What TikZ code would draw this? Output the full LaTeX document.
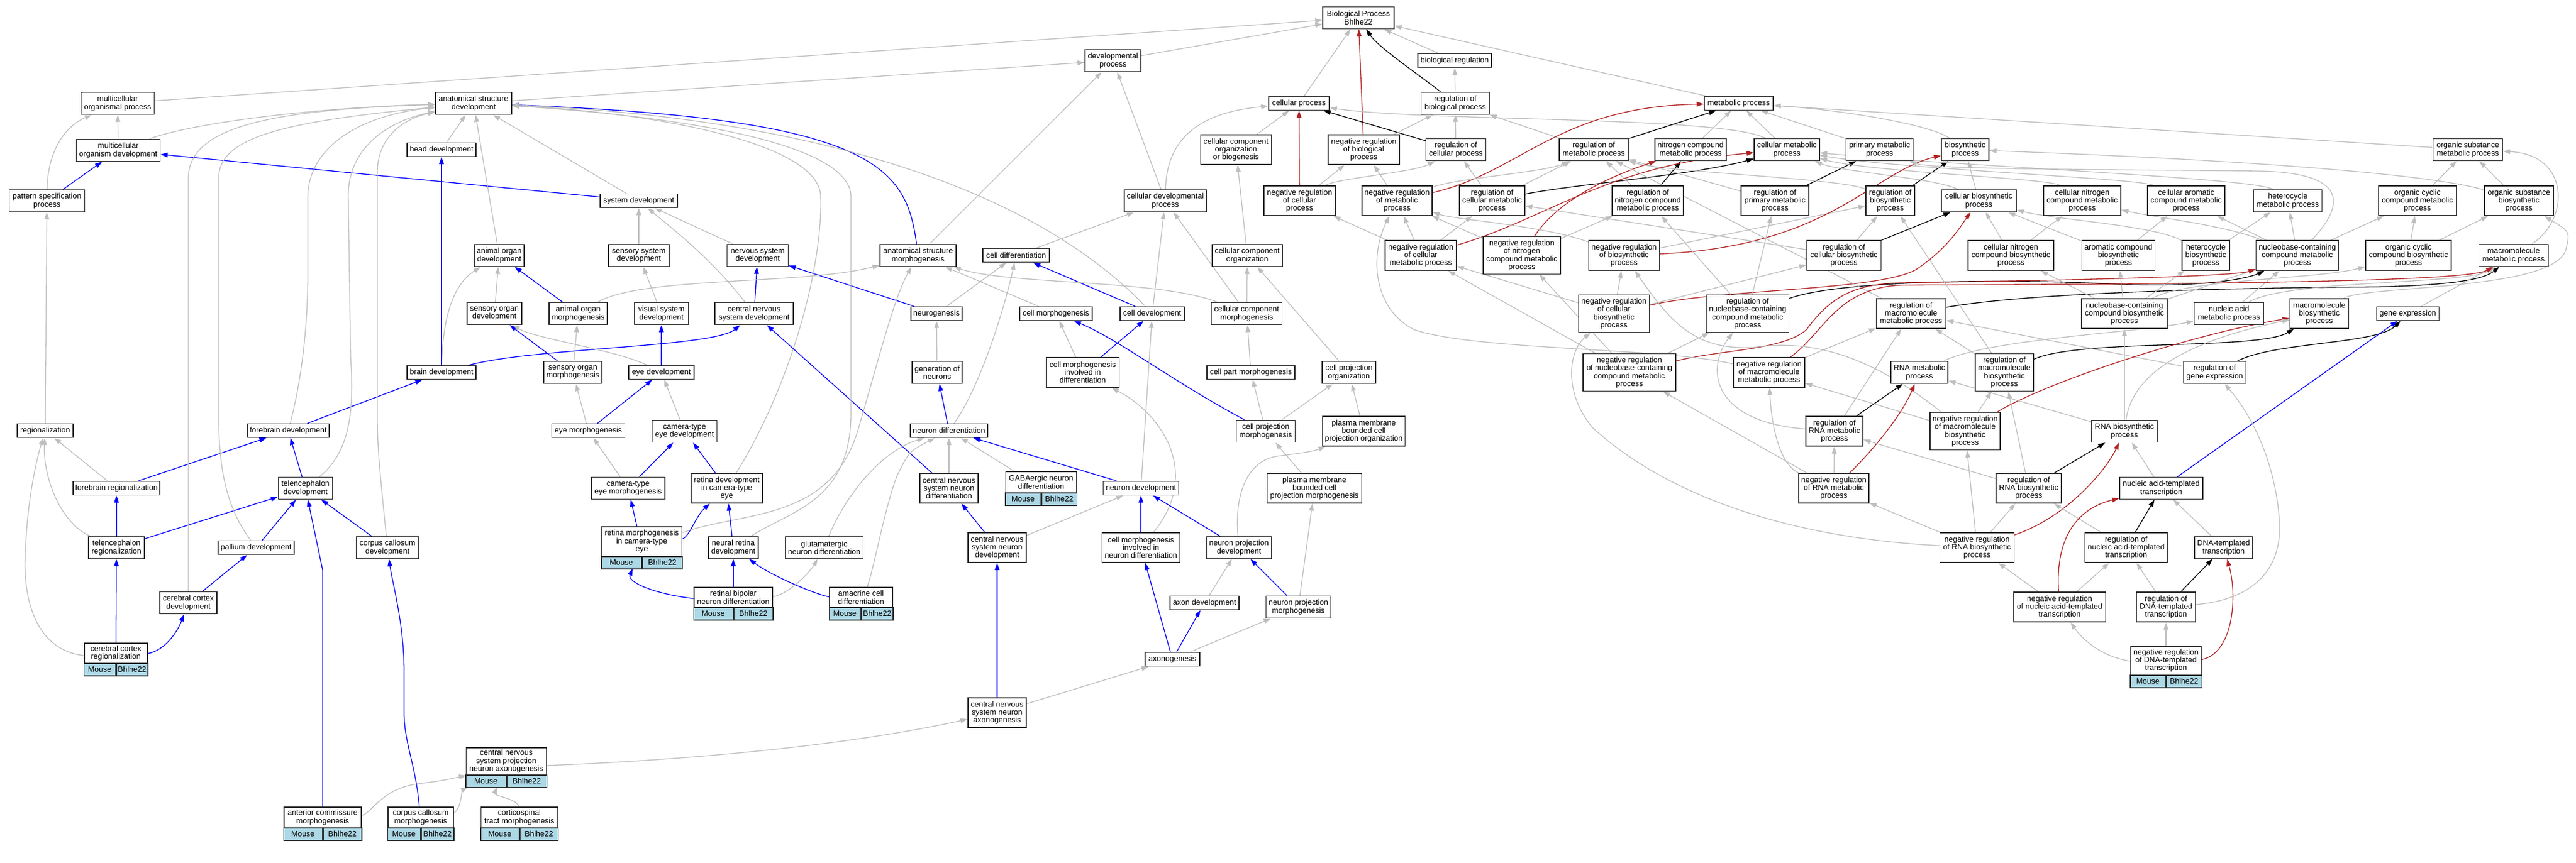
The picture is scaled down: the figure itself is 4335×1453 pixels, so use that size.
\documentclass[tikz,border=0pt]{standalone}
\usepackage{fontspec}
\setmainfont{Liberation Sans}
\usetikzlibrary{arrows.meta}
\definecolor{egray}{HTML}{BEBEBE}
\definecolor{eblue}{HTML}{0000FF}
\definecolor{ered}{HTML}{B22222}
\definecolor{lblue}{HTML}{ADD8E6}
\newcommand\gfont{\fontsize{13pt}{13.3pt}\selectfont}
\pgfdeclarelayer{bgl}
\pgfdeclarelayer{edges}
\pgfsetlayers{bgl,edges,main}
\tikzset{
 gbox/.style={draw=black!85, line width=1.5pt, fill=white, inner xsep=3pt, inner ysep=0pt, align=center, font=\gfont},
 gcell/.style={draw=black!85, line width=1.5pt, fill=lblue, minimum height=21pt, inner sep=0pt, font=\gfont},
 l1/.style={minimum height=23pt}, l2/.style={minimum height=37pt},
 l3/.style={minimum height=50pt}, l4/.style={minimum height=63pt},
 ga/.style={draw=egray, line width=1.3pt, -{Triangle[length=12pt,width=8pt]}},
 ba/.style={ga, draw=eblue},
 ka/.style={ga, draw=black},
 ra/.style={ga, draw=ered},
}
\newcommand\gnode[6]{\node[gbox,l#5,minimum width=#4pt] (#1) at (#2,#3) {#6};}
\newcommand\mnode[6]{%
 \node[inner sep=0pt, outer sep=0pt, minimum width=#4pt, minimum height={#5pt+21pt}] (#1) at (#2,{#3+#5/2+10.5}) {};
 \node[gbox, minimum width=#4pt, minimum height=#5pt, anchor=north] at (#2,#3) {#6};
 \node[gcell, minimum width=#4pt/2, anchor=north east] at (#2,{#3+#5}) {Mouse};
 \node[gcell, minimum width=#4pt/2, anchor=north west] at (#2,{#3+#5}) {Bhlhe22};
}
\begin{document}
\begin{tikzpicture}[x=1pt,y=-1pt]
\begin{pgfonlayer}{bgl}
\fill[white] (0,0) rectangle (4335,1453);
\end{pgfonlayer}
\path[use as bounding box] (0,0) rectangle (4335,1453);
% ---- nodes
\gnode{BP}{2286}{30}{120}{2}{Biological Process\\Bhlhe22}
\gnode{DP}{1873}{102}{94}{2}{developmental\\process}
\gnode{BR}{2448}{102}{124}{1}{biological regulation}
\gnode{MOP}{198}{174}{123}{2}{multicellular\\organismal process}
\gnode{ASD}{797}{174}{128}{2}{anatomical structure\\development}
\gnode{CP}{2186}{174}{102}{1}{cellular process}
\gnode{RBP}{2449}{174}{115}{2}{regulation of\\biological process}
\gnode{MP}{2926}{174}{116}{1}{metabolic process}
\gnode{MOD}{199}{253}{141}{2}{multicellular\\organism development}
\gnode{HD}{743}{252}{116}{1}{head development}
\gnode{CCOB}{2080}{252}{119}{3}{cellular component\\organization\\or biogenesis}
\gnode{NRBP}{2295}{252}{120}{3}{negative regulation\\of biological\\process}
\gnode{RCP}{2450}{252}{101}{2}{regulation of\\cellular process}
\gnode{RMP}{2682}{252}{116}{2}{regulation of\\metabolic process}
\gnode{NCMP}{2845}{252}{120}{2}{nitrogen compound\\metabolic process}
\gnode{CMP}{3007}{252}{110}{2}{cellular metabolic\\process}
\gnode{PMP}{3163}{252}{113}{2}{primary metabolic\\process}
\gnode{BSP}{3307}{252}{80}{2}{biosynthetic\\process}
\gnode{OSMP}{4153}{252}{117}{2}{organic substance\\metabolic process}
\gnode{PSP}{79}{338}{127}{2}{pattern specification\\process}
\gnode{SD}{1075}{338}{130}{1}{system development}
\gnode{CDP}{1961}{338}{138}{2}{cellular developmental\\process}
\gnode{NRCP}{2187}{338}{120}{3}{negative regulation\\of cellular\\process}
\gnode{NRMP}{2351}{338}{118}{3}{negative regulation\\of metabolic\\process}
\gnode{RCMP}{2511}{338}{110}{3}{regulation of\\cellular metabolic\\process}
\gnode{RNCMP}{2773}{338}{120}{3}{regulation of\\nitrogen compound\\metabolic process}
\gnode{RPMP}{2987}{338}{114}{3}{regulation of\\primary metabolic\\process}
\gnode{RBSP}{3181}{338}{82}{3}{regulation of\\biosynthetic\\process}
\gnode{CBP}{3330}{338}{126}{2}{cellular biosynthetic\\process}
\gnode{CNCMP}{3504}{338}{130}{3}{cellular nitrogen\\compound metabolic\\process}
\gnode{CACMP}{3679}{338}{130}{3}{cellular aromatic\\compound metabolic\\process}
\gnode{HMP}{3850}{338}{115}{2}{heterocycle\\metabolic process}
\gnode{OCCMP}{4068}{338}{131}{3}{organic cyclic\\compound metabolic\\process}
\gnode{OSBP}{4239}{338}{116}{3}{organic substance\\biosynthetic\\process}
\gnode{AOD}{840}{430}{84}{2}{animal organ\\development}
\gnode{SSD}{1075}{430}{102}{2}{sensory system\\development}
\gnode{NSD}{1275}{430}{103}{2}{nervous system\\development}
\gnode{ASM}{1545}{430}{128}{2}{anatomical structure\\morphogenesis}
\gnode{CDIF}{1710}{430}{112}{1}{cell differentiation}
\gnode{CCO}{2099}{430}{118}{2}{cellular component\\organization}
\gnode{NRCMP}{2391}{430}{120}{3}{negative regulation\\of cellular\\metabolic process}
\gnode{NRNCMP}{2561}{430}{130}{4}{negative regulation\\of nitrogen\\compound metabolic\\process}
\gnode{NRBSP}{2733}{430}{119}{3}{negative regulation\\of biosynthetic\\process}
\gnode{RCBP}{3103}{430}{125}{3}{regulation of\\cellular biosynthetic\\process}
\gnode{CNCBP}{3384}{430}{144}{3}{cellular nitrogen\\compound biosynthetic\\process}
\gnode{ACBP}{3565}{430}{123}{3}{aromatic compound\\biosynthetic\\process}
\gnode{HBP}{3712}{430}{80}{3}{heterocycle\\biosynthetic\\process}
\gnode{NBCMP}{3866}{430}{139}{3}{nucleobase-containing\\compound metabolic\\process}
\gnode{OCCBP}{4053}{430}{144}{3}{organic cyclic\\compound biosynthetic\\process}
\gnode{MMP}{4230}{430}{117}{2}{macromolecule\\metabolic process}
\gnode{SOD}{832}{528}{92}{2}{sensory organ\\development}
\gnode{AOM}{973}{528}{98}{2}{animal organ\\morphogenesis}
\gnode{VSD}{1113}{528}{91}{2}{visual system\\development}
\gnode{CNSD}{1269}{528}{132}{2}{central nervous\\system development}
\gnode{NG}{1576}{528}{86}{1}{neurogenesis}
\gnode{CM}{1777}{528}{122}{1}{cell morphogenesis}
\gnode{CD}{1939}{528}{108}{1}{cell development}
\gnode{CCM}{2098}{528}{119}{2}{cellular component\\morphogenesis}
\gnode{NRCBP}{2716}{528}{119}{4}{negative regulation\\of cellular\\biosynthetic\\process}
\gnode{RNBCMP}{2941}{528}{139}{4}{regulation of\\nucleobase-containing\\compound metabolic\\process}
\gnode{RMMP}{3216}{528}{117}{3}{regulation of\\macromolecule\\metabolic process}
\gnode{NBCBP}{3575}{528}{144}{3}{nucleobase-containing\\compound biosynthetic\\process}
\gnode{NAMP}{3751}{528}{117}{2}{nucleic acid\\metabolic process}
\gnode{MBP}{3903}{528}{99}{3}{macromolecule\\biosynthetic\\process}
\gnode{GE}{4052}{528}{105}{1}{gene expression}
\gnode{BD}{743}{627}{116}{1}{brain development}
\gnode{SOM}{964}{627}{98}{2}{sensory organ\\morphogenesis}
\gnode{ED}{1113}{627}{110}{1}{eye development}
\gnode{GON}{1577}{627}{84}{2}{generation of\\neurons}
\gnode{CMID}{1822}{627}{123}{3}{cell morphogenesis\\involved in\\differentiation}
\gnode{CPM}{2105}{627}{148}{1}{cell part morphogenesis}
\gnode{CPO}{2270}{627}{90}{2}{cell projection\\organization}
\gnode{NRNBCMP}{2742}{627}{156}{4}{negative regulation\\of nucleobase-containing\\compound metabolic\\process}
\gnode{NRMMP}{2977}{627}{120}{3}{negative regulation\\of macromolecule\\metabolic process}
\gnode{RNAMP}{3230}{627}{96}{2}{RNA metabolic\\process}
\gnode{RMBP}{3373}{627}{98}{4}{regulation of\\macromolecule\\biosynthetic\\process}
\gnode{RGE}{3727}{627}{105}{2}{regulation of\\gene expression}
\gnode{REG}{76}{725}{94}{1}{regionalization}
\gnode{FD}{485}{725}{138}{1}{forebrain development}
\gnode{EM}{990}{725}{123}{1}{eye morphogenesis}
\gnode{CTED}{1152}{726}{109}{2}{camera-type\\eye development}
\gnode{ND}{1597}{725}{130}{1}{neuron differentiation}
\gnode{CPMO}{2130}{726}{99}{2}{cell projection\\morphogenesis}
\gnode{PMBCPO}{2295}{726}{139}{3}{plasma membrane\\bounded cell\\projection organization}
\gnode{RRNAMP}{3087}{726}{96}{3}{regulation of\\RNA metabolic\\process}
\gnode{NRMBP}{3307}{726}{118}{4}{negative regulation\\of macromolecule\\biosynthetic\\process}
\gnode{RNABP}{3575}{726}{111}{2}{RNA biosynthetic\\process}
\gnode{FR}{196}{822}{146}{1}{forebrain regionalization}
\gnode{TD}{514}{822}{91}{2}{telencephalon\\development}
\gnode{CTEM}{1057}{822}{124}{2}{camera-type\\eye morphogenesis}
\gnode{RDCTE}{1223}{822}{120}{3}{retina development\\in camera-type\\eye}
\gnode{CNSND}{1597}{822}{98}{3}{central nervous\\system neuron\\differentiation}
\mnode{GABA}{1752}{793}{119}{36}{GABAergic neuron\\differentiation}
\gnode{NDEV}{1920}{822}{127}{1}{neuron development}
\gnode{PMBCPM}{2212}{822}{159}{3}{plasma membrane\\bounded cell\\projection morphogenesis}
\gnode{NRRNAMP}{3086}{822}{118}{3}{negative regulation\\of RNA metabolic\\process}
\gnode{RRNABP}{3414}{822}{110}{3}{regulation of\\RNA biosynthetic\\process}
\gnode{NATT}{3637}{822}{140}{2}{nucleic acid-templated\\transcription}
\gnode{TR}{196}{922}{94}{2}{telencephalon\\regionalization}
\gnode{PD}{431}{922}{128}{1}{pallium development}
\gnode{CCD}{652}{922}{105}{2}{corpus callosum\\development}
\mnode{RMCTE}{1080}{886}{135}{50}{retina morphogenesis\\in camera-type\\eye}
\gnode{NRD}{1234}{922}{84}{2}{neural retina\\development}
\gnode{GND}{1387}{922}{131}{2}{glutamatergic\\neuron differentiation}
\gnode{CNSNDEV}{1678}{922}{98}{3}{central nervous\\system neuron\\development}
\gnode{CMIND}{1920}{922}{131}{3}{cell morphogenesis\\involved in\\neuron differentiation}
\gnode{NPD}{2085}{922}{109}{2}{neuron projection\\development}
\gnode{NRRNABP}{3327}{922}{125}{3}{negative regulation\\of RNA biosynthetic\\process}
\gnode{RNATT}{3578}{922}{139}{3}{regulation of\\nucleic acid-templated\\transcription}
\gnode{DTT}{3742}{922}{98}{2}{DNA-templated\\transcription}
\gnode{CCD2}{317}{1015}{96}{2}{cerebral cortex\\development}
\mnode{RBND}{1234}{988}{132}{34}{retinal bipolar\\neuron differentiation}
\mnode{ACD}{1449}{988}{106}{34}{amacrine cell\\differentiation}
\gnode{AXD}{2027}{1015}{116}{1}{axon development}
\gnode{NPM}{2185}{1022}{109}{2}{neuron projection\\morphogenesis}
\gnode{NRNATT}{3466}{1022}{155}{3}{negative regulation\\of nucleic acid-templated\\transcription}
\gnode{RDTT}{3645}{1022}{99}{3}{regulation of\\DNA-templated\\transcription}
\mnode{CCR}{195}{1082}{106}{34}{cerebral cortex\\regionalization}
\gnode{AXG}{1973}{1110}{92}{1}{axonogenesis}
\mnode{NRDTT}{3645}{1087}{119}{49}{negative regulation\\of DNA-templated\\transcription}
\gnode{CNSNAX}{1678}{1200}{98}{3}{central nervous\\system neuron\\axonogenesis}
\mnode{CNSPNA}{852}{1258}{135}{46}{central nervous\\system projection\\neuron axonogenesis}
\mnode{ACM}{543}{1358}{130}{35}{anterior commissure\\morphogenesis}
\mnode{CCMM}{708}{1358}{110}{35}{corpus callosum\\morphogenesis}
\mnode{CSTM}{874}{1358}{129}{35}{corticospinal\\tract morphogenesis}
% ---- edges
\begin{pgfonlayer}{edges}
\draw[ga] (MOP) -- (BP);
\draw[ga] (DP) -- (BP);
\draw[ga] (ASD) -- (DP);
\draw[ga] (CP) -- (BP);
\draw[ra] (NRBP) -- (BP);
\draw[ka] (RBP) .. controls (2380,120) and (2320,80) .. (BP);
\draw[ga] (BR) -- (BP);
\draw[ga] (MP) -- (BP);
\draw[ga] (RBP) -- (BR);
\draw[ga] (CDP) .. controls (1963,240) and (2010,190) .. (CP);
\draw[ga] (CCOB) -- (CP);
\draw[ra] (NRCP) -- (CP);
\draw[ka] (RCP) -- (CP);
\draw[ga] (CMP) .. controls (2900,195) and (2400,205) .. (CP);
\draw[ga] (NRBP) -- (RBP);
\draw[ga] (RCP) -- (RBP);
\draw[ga] (RMP) -- (RBP);
\draw[ka] (RMP) -- (MP);
\draw[ga] (NCMP) -- (MP);
\draw[ga] (CMP) -- (MP);
\draw[ga] (PMP) -- (MP);
\draw[ra] (NRMP) .. controls (2560,290) and (2620,180) .. (MP);
\draw[ga] (OSMP) -- (MP);
\draw[ga] (BSP) .. controls (3250,210) and (3100,185) .. (MP);
\draw[ba] (PSP) -- (MOD);
\draw[ga] (PSP) .. controls (80,260) and (105,215) .. (MOP);
\draw[ga] (MOD) -- (MOP);
\draw[ga] (MOD) .. controls (330,205) and (550,180) .. (ASD);
\draw[ga] (HD) -- (ASD);
\draw[ba] (SD) -- (MOD);
\draw[ga] (SD) -- (ASD);
\draw[ga] (CDP) -- (DP);
\draw[ga] (CCO) -- (CCOB);
\draw[ga] (NRCP) -- (NRBP);
\draw[ga] (NRCP) .. controls (2250,300) and (2380,290) .. (RCP);
\draw[ga] (NRMP) -- (NRBP);
\draw[ga] (NRMP) .. controls (2450,300) and (2600,290) .. (RMP);
\draw[ga] (RCMP) -- (RCP);
\draw[ga] (RCMP) -- (RMP);
\draw[ka] (RCMP) .. controls (2650,310) and (2850,295) .. (CMP);
\draw[ga] (RNCMP) -- (RMP);
\draw[ka] (RNCMP) -- (NCMP);
\draw[ga] (RPMP) -- (RMP);
\draw[ka] (RPMP) -- (PMP);
\draw[ga] (RBSP) .. controls (3100,300) and (2800,290) .. (RMP);
\draw[ka] (RBSP) -- (BSP);
\draw[ga] (CBP) -- (BSP);
\draw[ga] (CBP) .. controls (3260,300) and (3100,290) .. (CMP);
\draw[ga] (CNCMP) .. controls (3450,300) and (3150,290) .. (CMP);
\draw[ga] (CACMP) .. controls (3600,300) and (3200,285) .. (CMP);
\draw[ga] (HMP) .. controls (3800,300) and (3300,280) .. (CMP);
\draw[ga] (OCCMP) -- (OSMP);
\draw[ga] (OSBP) -- (OSMP);
\draw[ga] (OSBP) .. controls (4100,295) and (3800,270) .. (BSP);
\draw[ga] (AOD) -- (ASD);
\draw[ga] (SSD) -- (SD);
\draw[ga] (NSD) -- (SD);
\draw[ba] (ASM) .. controls (1525,280) and (1470,200) .. (ASD);
\draw[ga] (ASM) -- (DP);
\draw[ga] (CDIF) -- (CDP);
\draw[ga] (NRCMP) -- (NRCP);
\draw[ga] (NRCMP) -- (NRMP);
\draw[ga] (NRCMP) -- (RCMP);
\draw[ra] (NRCMP) .. controls (2600,370) and (2700,280) .. (CMP);
\draw[ga] (NRNCMP) -- (NRMP);
\draw[ga] (NRNCMP) -- (RNCMP);
\draw[ra] (NRNCMP) .. controls (2620,340) and (2700,300) .. (NCMP);
\draw[ga] (NRBSP) .. controls (2600,380) and (2450,370) .. (NRMP);
\draw[ga] (NRBSP) -- (RBSP);
\draw[ra] (NRBSP) .. controls (3080,415) and (3150,290) .. (BSP);
\draw[ga] (RCBP) -- (RBSP);
\draw[ga] (RCBP) -- (RCMP);
\draw[ka] (RCBP) -- (CBP);
\draw[ga] (CNCBP) -- (CBP);
\draw[ga] (CNCBP) -- (CNCMP);
\draw[ga] (ACBP) -- (CBP);
\draw[ga] (ACBP) -- (CACMP);
\draw[ga] (HBP) .. controls (3630,380) and (3460,370) .. (CBP);
\draw[ga] (HBP) -- (HMP);
\draw[ga] (NBCMP) .. controls (3750,380) and (3620,365) .. (CNCMP);
\draw[ga] (NBCMP) -- (CACMP);
\draw[ga] (NBCMP) -- (HMP);
\draw[ga] (NBCMP) -- (OCCMP);
\draw[ga] (NBCMP) .. controls (3960,330) and (3930,290) .. (3800,288) .. controls (3500,285) and (3250,285) .. (PMP);
\draw[ga] (OCCBP) -- (OCCMP);
\draw[ga] (OCCBP) -- (OSBP);
\draw[ga] (MMP) .. controls (4325,370) and (4325,260) .. (OSMP);
\draw[ga] (SOD) -- (AOD);
\draw[ba] (AOM) -- (AOD);
\draw[ga] (VSD) -- (SSD);
\draw[ba] (CNSD) -- (NSD);
\draw[ga] (CNSD) .. controls (1200,440) and (1150,400) .. (SD);
\draw[ba] (NG) -- (NSD);
\draw[ga] (NG) -- (CDIF);
\draw[ga] (CM) -- (ASM);
\draw[ba] (CD) -- (CDIF);
\draw[ga] (CD) -- (CDP);
\draw[ga] (CD) .. controls (1750,330) and (1400,200) .. (ASD);
\draw[ga] (CCM) .. controls (1950,470) and (1700,480) .. (ASM);
\draw[ga] (CCM) -- (CDP);
\draw[ga] (CCM) -- (CCO);
\draw[ga] (AOM) .. controls (1080,465) and (1350,480) .. (ASM);
\draw[ga] (BD) .. controls (745,540) and (760,480) .. (AOD);
\draw[ga] (NRCBP) -- (NRBSP);
\draw[ga] (NRCBP) -- (RCBP);
\draw[ga] (NRCBP) -- (NRCMP);
\draw[ra] (NRCBP) .. controls (2900,485) and (3180,490) .. (3230,450) .. controls (3280,415) and (3300,380) .. (CBP);
\draw[ga] (RNBCMP) -- (RNCMP);
\draw[ga] (RNBCMP) -- (RPMP);
\draw[ka] (RNBCMP) .. controls (3100,470) and (3400,470) .. (3550,478) .. controls (3700,485) and (3780,470) .. (NBCMP);
\draw[ga] (RMMP) -- (RMP);
\draw[ka] (RMMP) .. controls (3400,495) and (3700,485) .. (4000,483) .. controls (4130,480) and (4180,470) .. (MMP);
\draw[ga] (NBCBP) -- (CNCBP);
\draw[ga] (NBCBP) -- (ACBP);
\draw[ga] (NBCBP) -- (HBP);
\draw[ga] (NBCBP) -- (NBCMP);
\draw[ga] (NBCBP) .. controls (3680,470) and (3900,470) .. (OCCBP);
\draw[ga] (NAMP) -- (NBCMP);
\draw[ga] (NAMP) .. controls (3850,470) and (4150,480) .. (MMP);
\draw[ga] (MBP) .. controls (3980,480) and (4300,490) .. (4318,420) .. controls (4325,390) .. (OSBP);
\draw[ga] (GE) -- (MMP);
\draw[ba] (BD) -- (HD);
\draw[ba] (BD) .. controls (900,585) and (1200,585) .. (CNSD);
\draw[ba] (SOM) -- (SOD);
\draw[ga] (SOM) -- (AOM);
\draw[ga] (ED) .. controls (1040,590) and (900,570) .. (SOD);
\draw[ba] (ED) -- (VSD);
\draw[ga] (GON) -- (NG);
\draw[ga] (CMID) -- (CM);
\draw[ba] (CMID) -- (CD);
\draw[ga] (CPM) -- (CCM);
\draw[ga] (CPO) -- (CCO);
\draw[ga] (NRNBCMP) -- (NRCMP);
\draw[ga] (NRNBCMP) -- (NRNCMP);
\draw[ga] (NRNBCMP) -- (RNBCMP);
\draw[ra] (NRNBCMP) .. controls (2900,588) and (3000,590) .. (3040,555) .. controls (3080,500) and (3120,478) .. (3200,476) .. controls (3500,472) and (3760,465) .. (NBCMP);
\draw[ga] (NRMMP) .. controls (2800,585) and (2480,590) .. (2380,555) .. controls (2310,520) and (2305,430) .. (NRMP);
\draw[ga] (NRMMP) -- (RMMP);
\draw[ra] (NRMMP) .. controls (3070,560) and (3090,485) .. (3200,480) .. controls (3700,478) and (4150,475) .. (MMP);
\draw[ga] (RNAMP) .. controls (3350,570) and (3600,560) .. (NAMP);
\draw[ga] (RMBP) -- (RMMP);
\draw[ga] (RMBP) -- (RBSP);
\draw[ka] (RMBP) .. controls (3500,570) and (3800,590) .. (MBP);
\draw[ga] (RGE) -- (RMMP);
\draw[ka] (RGE) .. controls (3830,575) and (4000,580) .. (GE);
\draw[ga] (REG) -- (PSP);
\draw[ba] (FD) -- (BD);
\draw[ga] (FD) .. controls (505,650) and (518,560) .. (518,460) -- (518,330) .. controls (520,250) and (600,195) .. (ASD);
\draw[ga] (EM) -- (SOM);
\draw[ba] (EM) -- (ED);
\draw[ga] (CTED) -- (ED);
\draw[ba] (ND) -- (GON);
\draw[ga] (ND) .. controls (1650,650) and (1690,520) .. (CDIF);
\draw[ga] (CPMO) -- (CPM);
\draw[ga] (CPMO) -- (CPO);
\draw[ba] (CPMO) .. controls (1970,640) and (1880,570) .. (CM);
\draw[ga] (PMBCPO) -- (CPO);
\draw[ka] (RRNAMP) -- (RNAMP);
\draw[ga] (RRNAMP) .. controls (2880,710) and (2870,620) .. (RNBCMP);
\draw[ga] (RRNAMP) -- (RMMP);
\draw[ga] (NRMBP) -- (NRMMP);
\draw[ga] (NRMBP) -- (RMBP);
\draw[ra] (NRMBP) .. controls (3450,640) and (3700,560) .. (MBP);
\draw[ga] (NRMBP) .. controls (3150,600) and (3050,570) .. (2950,585) .. controls (2850,590) and (2810,540) .. (NRBSP);
\draw[ga] (RNABP) -- (NBCBP);
\draw[ga] (RNABP) -- (RNAMP);
\draw[ga] (RNABP) .. controls (3590,620) and (3700,570) .. (MBP);
\draw[ba] (FR) -- (FD);
\draw[ga] (FR) -- (REG);
\draw[ba] (TD) -- (FD);
\draw[ga] (TD) .. controls (590,760) and (596,690) .. (590,600) -- (586,330) .. controls (586,250) and (650,205) .. (ASD);
\draw[ga] (CTEM) -- (EM);
\draw[ba] (CTEM) -- (CTED);
\draw[ba] (RDCTE) -- (CTED);
\draw[ga] (RDCTE) .. controls (1330,650) and (1385,450) .. (1381,330) .. controls (1378,240) and (1100,190) .. (ASD);
\draw[ga] (CNSND) -- (ND);
\draw[ba] (CNSND) -- (CNSD);
\draw[ga] (GABA) -- (ND);
\draw[ba] (NDEV) -- (ND);
\draw[ga] (NDEV) -- (CD);
\draw[ga] (PMBCPM) -- (CPMO);
\draw[ga] (NRRNAMP) -- (RRNAMP);
\draw[ra] (NRRNAMP) .. controls (3150,760) and (3200,700) .. (RNAMP);
\draw[ga] (NRRNAMP) -- (NRNBCMP);
\draw[ga] (NRRNAMP) .. controls (2990,780) and (2980,700) .. (NRMMP);
\draw[ka] (RRNABP) -- (RNABP);
\draw[ga] (RRNABP) -- (RMBP);
\draw[ga] (RRNABP) -- (RRNAMP);
\draw[ba] (NATT) -- (GE);
\draw[ga] (NATT) -- (RNABP);
\draw[ba] (TR) -- (FR);
\draw[ba] (TR) -- (TD);
\draw[ga] (TR) .. controls (100,880) and (72,800) .. (REG);
\draw[ba] (PD) -- (TD);
\draw[ga] (PD) .. controls (385,860) and (368,800) .. (368,700) -- (368,300) .. controls (368,230) and (480,205) .. (ASD);
\draw[ba] (CCD) -- (TD);
\draw[ga] (CCD) .. controls (640,800) and (635,760) .. (635,700) -- (635,290) .. controls (635,230) and (680,200) .. (ASD);
\draw[ba] (RMCTE) -- (CTEM);
\draw[ba] (RMCTE) .. controls (1160,905) and (1170,870) .. (RDCTE);
\draw[ga] (RMCTE) .. controls (1250,860) and (1400,880) .. (1445,720) .. controls (1480,600) and (1505,500) .. (ASM);
\draw[ba] (NRD) -- (RDCTE);
\draw[ga] (NRD) .. controls (1330,860) and (1430,845) .. (1432,700) -- (1432,330) .. controls (1430,250) and (1200,200) .. (ASD);
\draw[ga] (GND) .. controls (1420,840) and (1480,760) .. (ND);
\draw[ba] (CNSNDEV) -- (CNSND);
\draw[ga] (CNSNDEV) -- (NDEV);
\draw[ba] (CMIND) -- (NDEV);
\draw[ga] (CMIND) .. controls (2020,800) and (1960,700) .. (CMID);
\draw[ba] (NPD) -- (NDEV);
\draw[ga] (NPD) .. controls (2077,830) and (2100,775) .. (2150,768) .. controls (2190,763) and (2210,760) .. (PMBCPO);
\draw[ga] (NRRNABP) -- (NRMBP);
\draw[ga] (NRRNABP) -- (RRNABP);
\draw[ga] (NRRNABP) -- (NRRNAMP);
\draw[ra] (NRRNABP) .. controls (3480,870) and (3545,790) .. (RNABP);
\draw[ga] (NRRNABP) .. controls (3000,905) and (2800,830) .. (2680,720) .. controls (2630,660) and (2640,590) .. (NRCBP);
\draw[ka] (RNATT) -- (NATT);
\draw[ga] (RNATT) -- (RRNABP);
\draw[ga] (DTT) -- (NATT);
\draw[ba] (CCD2) -- (PD);
\draw[ga] (CCD2) -- (317,300) .. controls (317,215) and (450,185) .. (ASD);
\draw[ba] (RBND) -- (NRD);
\draw[ba] (RBND) .. controls (1100,1000) and (1055,980) .. (RMCTE);
\draw[ga] (RBND) .. controls (1330,1000) and (1365,960) .. (GND);
\draw[ba] (ACD) .. controls (1370,1000) and (1300,970) .. (NRD);
\draw[ga] (ACD) .. controls (1470,960) and (1490,850) .. (1510,800) .. controls (1530,760) .. (ND);
\draw[ga] (AXD) -- (NPD);
\draw[ga] (NPM) -- (PMBCPM);
\draw[ba] (NPM) -- (NPD);
\draw[ga] (NRNATT) -- (NRRNABP);
\draw[ga] (NRNATT) -- (RNATT);
\draw[ra] (NRNATT) .. controls (3458,900) and (3500,855) .. (NATT);
\draw[ga] (RDTT) -- (RNATT);
\draw[ka] (RDTT) -- (DTT);
\draw[ga] (RDTT) .. controls (3790,1010) and (3840,960) .. (3836,880) .. controls (3830,780) and (3790,700) .. (RGE);
\draw[ba] (CCR) -- (TR);
\draw[ba] (CCR) .. controls (280,1095) and (300,1060) .. (CCD2);
\draw[ga] (CCR) .. controls (60,1095) and (42,1010) .. (42,950) .. controls (44,850) and (60,780) .. (REG);
\draw[ba] (AXG) -- (CMIND);
\draw[ba] (AXG) -- (AXD);
\draw[ga] (AXG) -- (NPM);
\draw[ga] (NRDTT) .. controls (3530,1105) and (3500,1070) .. (NRNATT);
\draw[ga] (NRDTT) -- (RDTT);
\draw[ra] (NRDTT) .. controls (3760,1100) and (3765,1000) .. (DTT);
\draw[ba] (CNSNAX) -- (CNSNDEV);
\draw[ga] (CNSNAX) -- (AXG);
\draw[ga] (CNSPNA) .. controls (1200,1278) and (1450,1250) .. (CNSNAX);
\draw[ba] (ACM) -- (543,960) -- (TD);
\draw[ga] (ACM) .. controls (625,1370) and (640,1330) .. (700,1320) .. controls (740,1315) .. (CNSPNA);
\draw[ba] (CCMM) .. controls (700,1290) and (680,1250) .. (680,1200) -- (680,1130) .. controls (680,1050) and (660,980) .. (CCD);
\draw[ga] (CCMM) .. controls (775,1365) and (778,1330) .. (CNSPNA);
\draw[ga] (CSTM) .. controls (872,1345) and (830,1340) .. (CNSPNA);
\end{pgfonlayer}
\end{tikzpicture}
\end{document}
